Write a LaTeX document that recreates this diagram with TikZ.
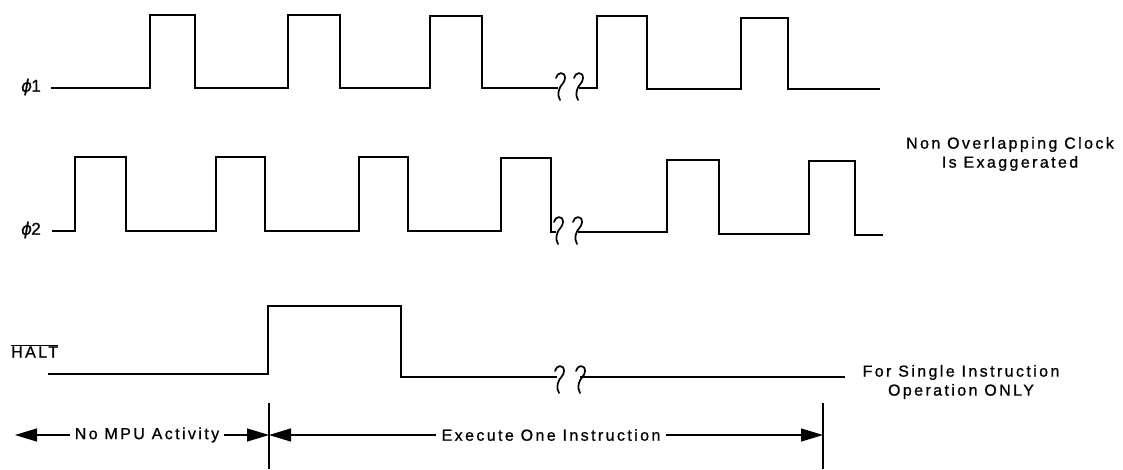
\documentclass[tikz,border=0pt]{standalone}
\usepackage{fontspec}
\setmainfont{Liberation Sans}[LetterSpace=15,FakeBold=0.8]
\newfontfamily\phifont{DejaVu Sans}[FakeSlant=0.18,FakeBold=0.8]
\usetikzlibrary{arrows.meta}
\begin{document}
\begin{tikzpicture}[x=1pt,y=-1pt,
  wave/.style={line width=1.7pt,line join=miter},
  arr/.style={line width=1.2pt,-{Triangle[length=22pt,width=13pt]}},
  marker/.style={line width=1.2pt},
  lbl/.style={font=\fontsize{17}{20}\selectfont,inner sep=0pt},
  txt/.style={font=\fontsize{16}{19}\selectfont,inner sep=5pt},
  brk/.pic={\draw[line width=1.7pt,line cap=round] (-4,-9) .. controls (-3,-15) and (5,-16) .. (5,-9) .. controls (5,-4) and (0,-2) .. (-1,3) .. controls (-2,7) and (-2,10) .. (0,13);}
]
\useasboundingbox (0,0) rectangle (1123,469);

% labels
\node[lbl,anchor=east] (phi1) at (41,87) {{\phifont ϕ}1};
\node[lbl,anchor=east] (phi2) at (41,230) {{\phifont ϕ}2};
\node[lbl,anchor=west,font=\fontsize{16}{19}\selectfont] (halt) at (11,351) {$\overline{\hbox{HALT}}$};

% phi1
\draw[wave] (51,88) -- (150,88) -- (150,15) -- (195,15) -- (195,88) -- (288,88) -- (288,15) -- (340,15) -- (340,88)
  -- (430,88) -- (430,16) -- (482,16) -- (482,88) -- (558,88);
\draw[wave] (579,88) -- (597,88) -- (597,16) -- (647,16) -- (647,89) -- (741,89) -- (741,18) -- (788,18) -- (788,89) -- (880,89);
\pic at (560,87) {brk};
\pic at (578,87) {brk};

% phi2
\draw[wave] (52,231) -- (75,231) -- (75,157) -- (126,157) -- (126,231) -- (216,231) -- (216,157) -- (265,157) -- (265,231)
  -- (359,231) -- (359,157) -- (408,157) -- (408,231) -- (501,231) -- (501,158) -- (551,158) -- (551,232) -- (556,232);
\draw[wave] (578,232) -- (667,232) -- (667,160) -- (719,160) -- (719,234) -- (809,234) -- (809,161) -- (855,161) -- (855,235) -- (883,235);
\pic at (558,231) {brk};
\pic at (577,231) {brk};

% HALT
\draw[wave] (48,374) -- (268,374) -- (268,306) -- (401,306) -- (401,377) -- (557,377);
\draw[wave] (580,377) -- (845,377);
\pic at (559,380) {brk};
\pic at (580,380) {brk};

% right notes
\node[txt,align=center] (note1) at (1010,154) {Non Overlapping Clock\\Is Exaggerated};
\node[txt,align=center] (note2) at (961,382) {For Single Instruction\\Operation ONLY};

% markers
\coordinate (m1a) at (269,403);
\coordinate (m1b) at (269,469);
\coordinate (m2a) at (823,403);
\coordinate (m2b) at (823,469);
\draw[marker] (m1a) -- (m1b);
\draw[marker] (m2a) -- (m2b);

% arrows
\node[txt] (nompu) at (147,435) {No MPU Activity};
\node[txt] (exec) at (551,435) {Execute One Instruction};
\coordinate (lend) at (15,435);
\draw[arr] (nompu.west) -- (lend);
\draw[arr] (nompu.east) -- (m1a |- nompu);
\draw[arr] (exec.west) -- (m1a |- exec);
\draw[arr] (exec.east) -- (m2a |- exec);
\end{tikzpicture}
\end{document}
